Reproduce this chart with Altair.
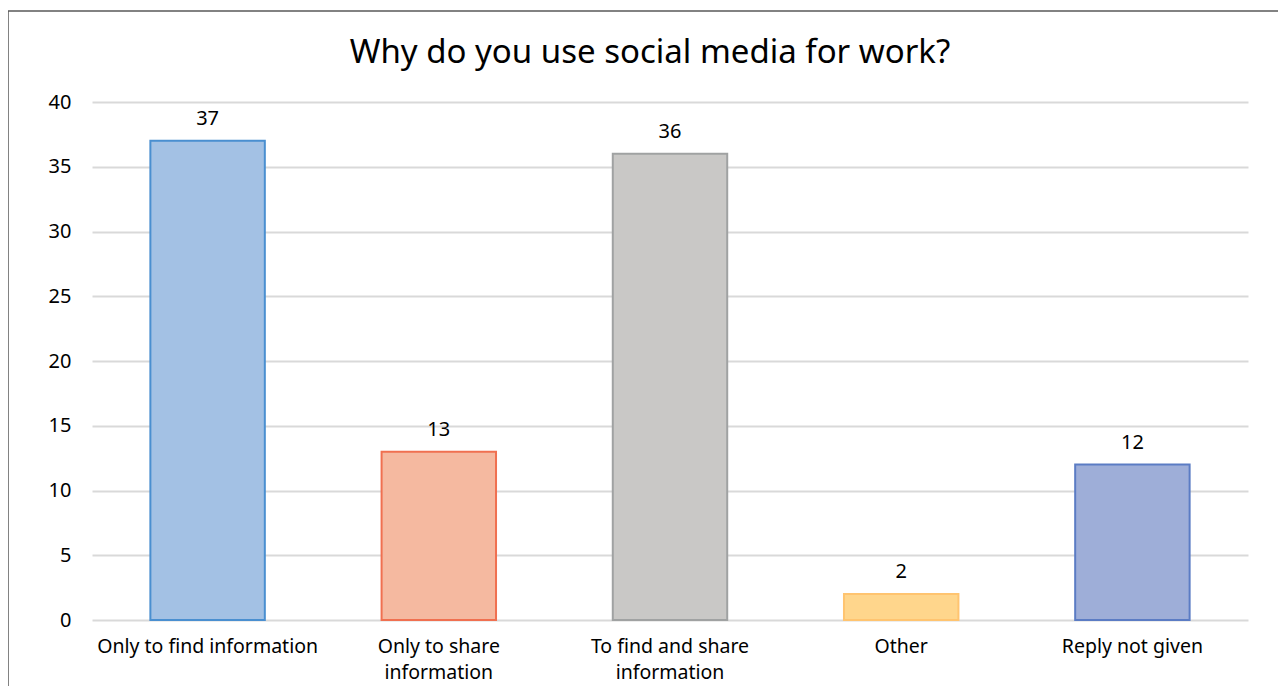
import altair as alt
import pandas as pd

categories = ["Only to find information", "Only to share information", "To find and share information", "Other", "Reply not given"]
labels = ["Only to find information", "Only to share\ninformation", "To find and share\ninformation", "Other", "Reply not given"]
values = [37, 13, 36, 2, 12]
fills = ["#a3c1e4", "#f5b9a0", "#c9c8c6", "#ffd68c", "#9eaed8"]
strokes = ["#4a8fd0", "#f07050", "#a0a2a2", "#ffc470", "#5b7cc4"]
title_text = "Why do you use social media for work?"

df = pd.DataFrame({"cat": categories, "label": labels, "value": values, "fill": fills, "stroke": strokes})

FONT = "Noto Sans"
label_map = " : ".join([f"datum.label == '{c}' ? '{l.replace(chr(10), '|')}'" for c, l in zip(categories, labels)]) + " : datum.label"

x = alt.X("cat:N", sort=categories, title=None,
          scale=alt.Scale(paddingInner=0.505, paddingOuter=0.2525),
          axis=alt.Axis(labelAngle=0, labelExpr=f"split({label_map}, '|')", domain=False, ticks=False,
                        labelFontSize=19.5, labelFont=FONT, labelColor="#000000", labelPadding=17,
                        labelLineHeight=26, labelLimit=300))
y = alt.Y("value:Q", title=None, scale=alt.Scale(domain=[0, 40]),
          axis=alt.Axis(values=[0, 5, 10, 15, 20, 25, 30, 35, 40], domain=False, ticks=False,
                        labelFontSize=20, labelFont=FONT, labelColor="#000000", labelPadding=21,
                        gridColor="#d9d9d9", gridWidth=2))

bars = alt.Chart(df).mark_bar(strokeWidth=2).encode(
    x=x, y=y,
    fill=alt.Fill("fill:N", scale=None),
    stroke=alt.Stroke("stroke:N", scale=None),
)
text = alt.Chart(df).mark_text(baseline="bottom", dy=-12, fontSize=20, font=FONT, color="#000000").encode(
    x=alt.X("cat:N", sort=categories), y="value:Q", text="value:Q"
)
border = alt.Chart(alt.Data(values=[{}])).mark_rect(
    fill="white", fillOpacity=0, stroke="#595959", strokeWidth=1.5, clip=False
).encode(x=alt.value(-84), x2=alt.value(1220), y=alt.value(-91), y2=alt.value(640))
title = alt.Chart(alt.Data(values=[{"t": title_text}])).mark_text(
    fontSize=33, font=FONT, color="#000000", baseline="middle", align="center"
).encode(x=alt.value(558), y=alt.value(-49), text="t:N")

chart = alt.layer(bars, text, border, title).properties(
    width=1156, height=518,
    autosize=alt.AutoSizeParams(type="none"),
    padding={"left": 84, "top": 94, "right": 30, "bottom": 66},
).configure_view(stroke=None)

chart.save("out.html", embed_options={"renderer": "svg", "actions": False})
